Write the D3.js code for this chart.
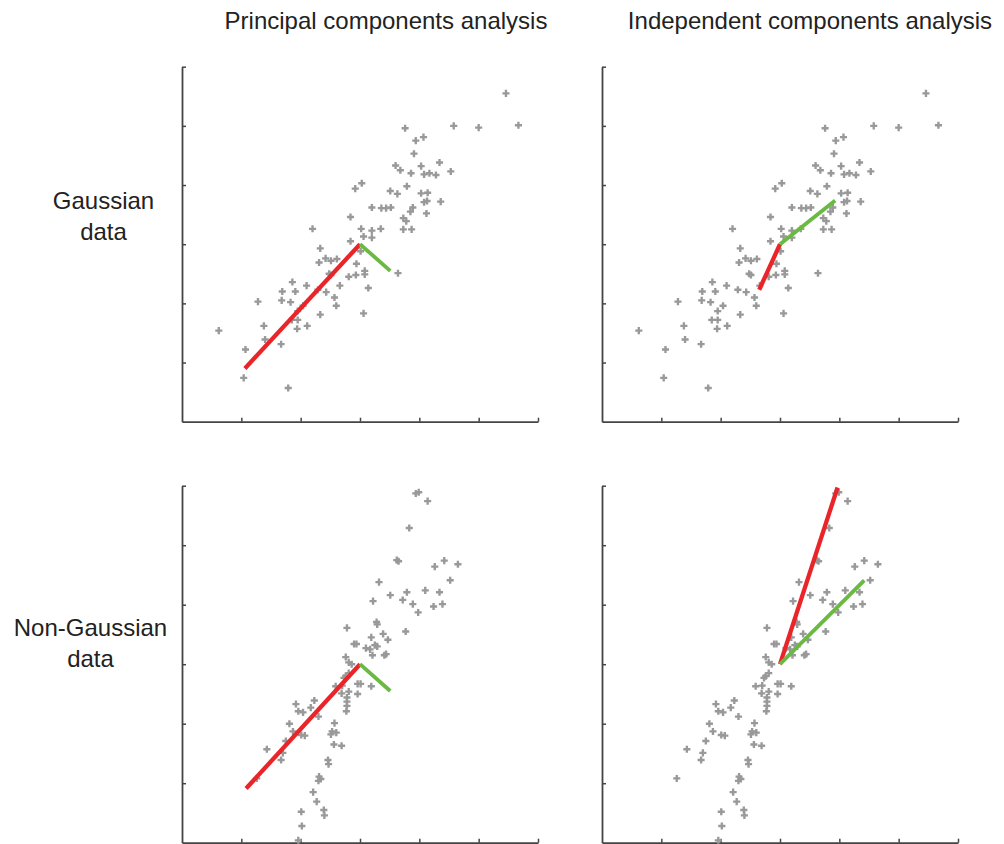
<!DOCTYPE html>
<html>
<head>
<meta charset="utf-8">
<script src="https://cdn.jsdelivr.net/npm/d3@7"></script>
<style>
  body { margin: 0; background: #fff; }
  text { font-family: "Liberation Sans", Arial, sans-serif; fill: #222; }
</style>
</head>
<body>
<div id="chart"></div>
<script>
const WIDTH = 1004;
const HEIGHT = 844;

// --------------- Data ---------------
const columnTitles = ["Principal components analysis", "Independent components analysis"];
const rowLabels = [["Gaussian", "data"], ["Non-Gaussian", "data"]];
const axisTicks = [1, 2, 3, 4, 5, 6];

// gaussian sample (same points in both top panels)
const gaussX = [5.46, 4.58, 5.00, 5.67, 3.76, 3.94, 4.07, 3.91, 3.60, 3.68, 3.86, 4.03, 4.08, 4.17, 4.28, 4.34, 4.53,
  3.03, 2.92, 3.51, 3.63, 3.79, 4.03, 4.14, 4.08, 4.13, 4.36, 4.12, 3.89, 3.85, 3.20, 3.36, 3.44, 3.52, 2.84, 3.73,
  3.78, 3.73, 3.87, 2.20, 3.02, 3.20, 3.35, 3.06, 3.20, 2.84, 3.01, 2.33, 2.31, 2.42, 2.51, 2.61, 2.94, 2.48, 2.51,
  2.81, 2.93, 3.08, 3.08, 3.64, 1.86, 2.10, 1.69, 1.91, 2.43, 2.66, 2.29, 2.57, 1.28, 1.68, 1.83, 2.60, 3.14, 2.04,
  1.95, 1.85, 1.95, 2.33, 3.06, 1.38, 1.94, 2.11, 1.40, 1.67, 0.62, 1.07, 1.04, 1.79];
const gaussY = [5.55, 5.00, 4.97, 5.01, 4.96, 4.75, 4.81, 4.53, 4.33, 4.25, 4.20, 4.32, 4.18, 4.20, 4.17, 4.38, 4.23,
  4.03, 3.94, 3.90, 3.85, 3.98, 3.86, 3.87, 3.71, 3.73, 3.72, 3.52, 3.62, 3.55, 3.62, 3.61, 3.61, 3.62, 3.46, 3.44,
  3.39, 3.25, 3.25, 3.26, 3.26, 3.23, 3.26, 3.13, 3.11, 3.05, 2.88, 2.93, 2.69, 2.76, 2.72, 2.75, 2.67, 2.50, 2.48,
  2.45, 2.48, 2.55, 2.49, 2.51, 2.36, 2.30, 2.20, 2.20, 2.19, 2.30, 2.23, 2.10, 2.03, 2.05, 2.02, 1.96, 2.26, 1.96,
  1.87, 1.72, 1.72, 1.81, 1.83, 1.62, 1.57, 1.62, 1.39, 1.31, 1.54, 1.22, 0.74, 0.57];

// non-gaussian sample (same points in both bottom panels)
const nonGaussX = [3.94, 3.99, 4.14, 3.83, 3.62, 3.65, 4.26, 4.42, 4.65, 4.52, 3.32, 3.51, 3.79, 4.10, 4.34, 3.22, 3.72,
  3.89, 3.98, 4.24, 4.39, 3.28, 3.29, 2.78, 3.77, 3.39, 3.19, 3.47, 2.90, 2.94, 3.10, 3.17, 3.25, 3.29, 3.21, 3.41,
  3.44, 2.76, 2.81, 2.86, 2.81, 2.76, 2.73, 2.96, 3.01, 3.19, 2.59, 2.70, 2.69, 2.81, 2.96, 2.78, 2.78, 2.78, 2.77,
  1.92, 1.96, 2.04, 2.17, 2.23, 2.30, 1.81, 1.87, 2.01, 2.07, 2.57, 2.53, 2.60, 2.51, 2.56, 2.69, 1.75, 1.43, 1.70,
  1.67, 2.46, 2.47, 2.31, 2.34, 2.30, 1.26, 2.21, 2.27, 2.39, 2.40, 2.01, 2.02, 1.96];
const nonGaussY = [5.87, 5.89, 5.74, 5.29, 4.75, 4.73, 4.64, 4.74, 4.68, 4.41, 4.38, 4.16, 4.21, 4.24, 4.21, 4.06, 4.08,
  4.01, 3.87, 3.97, 4.01, 3.71, 3.67, 3.61, 3.55, 3.51, 3.45, 3.41, 3.34, 3.34, 3.27, 3.25, 3.32, 3.30, 3.15, 3.15,
  3.17, 3.12, 3.03, 3.00, 2.85, 2.80, 2.77, 2.67, 2.67, 2.63, 2.63, 2.64, 2.51, 2.54, 2.50, 2.44, 2.37, 2.30, 2.21,
  2.33, 2.21, 2.19, 2.27, 2.39, 2.12, 2.00, 1.87, 1.81, 1.80, 2.01, 1.87, 1.85, 1.82, 1.65, 1.63, 1.71, 1.57, 1.51,
  1.39, 1.39, 1.32, 1.11, 1.07, 1.04, 1.08, 0.85, 0.69, 0.55, 0.46, 0.52, 0.28, 0.04];

// component vectors: [origin x, origin y, red end x, red end y, green end x, green end y]
const pcaGauss = [3, 3, 1.06, 0.90, 3.51, 2.55];
const icaGauss = [3, 3, 2.65, 2.23, 3.93, 3.74];
const pcaNonGauss = [3, 3, 1.08, 0.91, 3.51, 2.55];
const icaNonGauss = [3, 3, 3.97, 5.97, 4.42, 4.41];

const RED = "#e9252a";
const GREEN = "#6ab943";
const POINT_COLOR = "#999";

// --------------- Layout ---------------
const colLeft = [182, 602];
const panelW = 356;
const rowBottom = [421.7, 842.7];
const panelH = [355, 357];

const svg = d3.select("#chart").append("svg")
  .attr("width", WIDTH)
  .attr("height", HEIGHT);

svg.append("rect").attr("width", WIDTH).attr("height", HEIGHT).attr("fill", "#fff");

// column titles
svg.selectAll(".col-title")
  .data(columnTitles)
  .enter()
  .append("text")
  .attr("class", "col-title")
  .attr("x", (d, i) => [386, 810][i])
  .attr("y", 29)
  .attr("text-anchor", "middle")
  .attr("font-size", 24)
  .text(d => d);

// row labels
const rowLabelPos = [{x: 103.5, y: 209}, {x: 90.5, y: 636}];
rowLabels.forEach(function (lines, r) {
  const t = svg.append("text")
    .attr("text-anchor", "middle")
    .attr("font-size", 24);
  lines.forEach(function (line, k) {
    t.append("tspan")
      .attr("x", rowLabelPos[r].x)
      .attr("y", rowLabelPos[r].y + k * 30.5)
      .text(line);
  });
});

const panels = [
  {row: 0, col: 0, xs: gaussX, ys: gaussY, vec: pcaGauss},
  {row: 0, col: 1, xs: gaussX, ys: gaussY, vec: icaGauss},
  {row: 1, col: 0, xs: nonGaussX, ys: nonGaussY, vec: pcaNonGauss},
  {row: 1, col: 1, xs: nonGaussX, ys: nonGaussY, vec: icaNonGauss}
];

panels.forEach(function (p) {
  const x = d3.scaleLinear()
    .domain([0, 6])
    .range([colLeft[p.col], colLeft[p.col] + panelW]);
  const y = d3.scaleLinear()
    .domain([0, 6])
    .range([rowBottom[p.row], rowBottom[p.row] - panelH[p.row]]);

  const g = svg.append("g");

  // axes, ticks pointing inward
  const gx = g.append("g")
    .attr("transform", "translate(0," + rowBottom[p.row] + ")")
    .call(d3.axisBottom(x).tickValues(axisTicks).tickSizeInner(-4).tickSizeOuter(0).tickFormat(""));
  const gy = g.append("g")
    .attr("transform", "translate(" + colLeft[p.col] + ",0)")
    .call(d3.axisLeft(y).tickValues(axisTicks).tickSizeInner(-4).tickSizeOuter(0).tickFormat(""));
  [gx, gy].forEach(function (a) {
    a.select(".domain").attr("stroke", "#444").attr("stroke-width", 1.8);
    a.selectAll(".tick line").attr("stroke", "#444").attr("stroke-width", 1.5);
  });

  // scatter points
  const pts = p.xs.map((v, i) => [v, p.ys[i]]);
  g.append("g")
    .selectAll("path")
    .data(pts)
    .enter()
    .append("path")
    .attr("d", d3.symbol().type(d3.symbolCross).size(28))
    .attr("transform", d => "translate(" + x(d[0]) + "," + y(d[1]) + ")")
    .attr("fill", POINT_COLOR);

  // component directions
  const v = p.vec;
  g.append("line")
    .attr("x1", x(v[0])).attr("y1", y(v[1]))
    .attr("x2", x(v[2])).attr("y2", y(v[3]))
    .attr("stroke", RED)
    .attr("stroke-width", 4.3);
  g.append("line")
    .attr("x1", x(v[0])).attr("y1", y(v[1]))
    .attr("x2", x(v[4])).attr("y2", y(v[5]))
    .attr("stroke", GREEN)
    .attr("stroke-width", 3.8);
});
</script>
</body>
</html>
